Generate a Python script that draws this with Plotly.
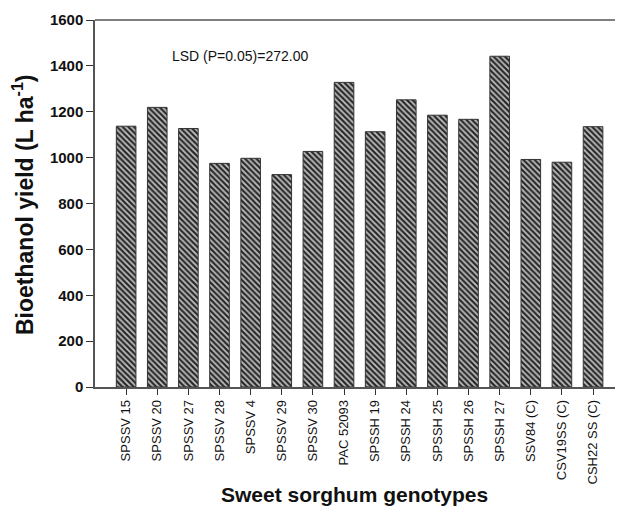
import plotly.graph_objects as go

genotypes = ["SPSSV 15", "SPSSV 20", "SPSSV 27", "SPSSV 28", "SPSSV 4", "SPSSV 29",
             "SPSSV 30", "PAC 52093", "SPSSH 19", "SPSSH 24", "SPSSH 25", "SPSSH 26",
             "SPSSH 27", "SSV84 (C)", "CSV19SS (C)", "CSH22 SS (C)"]
yield_values = [1137, 1219, 1127, 975, 997, 926, 1027, 1328, 1113, 1252, 1185, 1167,
                1442, 992, 980, 1135]
y_ticks = [0, 200, 400, 600, 800, 1000, 1200, 1400, 1600]
lsd_text = "LSD (P=0.05)=272.00"

# page body has an 8px default margin, so the figure is offset by 8px
OFF = 8
W, H = 623 - OFF, 512 - OFF
L, R, T, B = 95 - OFF, 1, 20 - OFF, 125

fig = go.Figure()
fig.add_trace(go.Bar(
    x=list(range(len(genotypes))),
    y=yield_values,
    width=0.63,
    marker=dict(
        color="#c0c0c0",
        line=dict(color="#333333", width=1),
        pattern=dict(shape="\\", fgcolor="#2a2a2a", bgcolor="#c0c0c0",
                     size=4, solidity=0.55, fillmode="replace"),
    ),
    showlegend=False,
))

fig.update_layout(
    width=W, height=H,
    margin=dict(l=L, r=R, t=T, b=B, autoexpand=False),
    paper_bgcolor="white", plot_bgcolor="white",
    font=dict(family="Arial, Liberation Sans, sans-serif", color="#111"),
)
fig.update_xaxes(
    range=[-1.0, 15.93], automargin=False,
    tickmode="array", tickvals=list(range(len(genotypes))), ticktext=genotypes,
    tickangle=-90, tickfont=dict(size=13, color="#111"),
    ticks="outside", ticklen=6, tickcolor="#333",
    showline=True, linecolor="#555", linewidth=1.5, mirror=False,
    showgrid=False, zeroline=False,
)
fig.update_yaxes(
    range=[0, 1600], automargin=False,
    tickmode="array", tickvals=y_ticks, ticktext=[f"<b>{v}</b>" for v in y_ticks],
    tickfont=dict(size=15, color="#111"),
    ticks="outside", ticklen=7, tickcolor="#333",
    showline=True, linecolor="#555", linewidth=1.5, mirror=False,
    showgrid=False, zeroline=False,
)
# top frame line
fig.add_shape(type="line", xref="paper", yref="paper", x0=0, x1=1, y0=1, y1=1,
              line=dict(color="#555", width=1.5))

pw = W - L - R
ph = H - T - B
def px(xp):
    return (xp - OFF - L) / pw
def py(yp):
    return (H - B - (yp - OFF)) / ph

# axis titles
fig.add_annotation(x=px(354), y=py(495), xref="paper", yref="paper",
                   xanchor="center", yanchor="middle",
                   text="<b>Sweet sorghum genotypes</b>", showarrow=False,
                   font=dict(size=21, color="#111"))
fig.add_annotation(x=px(23), y=py(205), xref="paper", yref="paper",
                   xanchor="center", yanchor="middle",
                   text="<b>Bioethanol yield (L ha<sup>-1</sup>)</b>", showarrow=False,
                   textangle=-90, font=dict(size=23, color="#111"))
fig.add_annotation(x=px(170), y=1445, xref="paper", yref="y", text=lsd_text,
                   showarrow=False, xanchor="left", yanchor="middle",
                   font=dict(size=14, color="#111"))

fig.write_html("out.html")
